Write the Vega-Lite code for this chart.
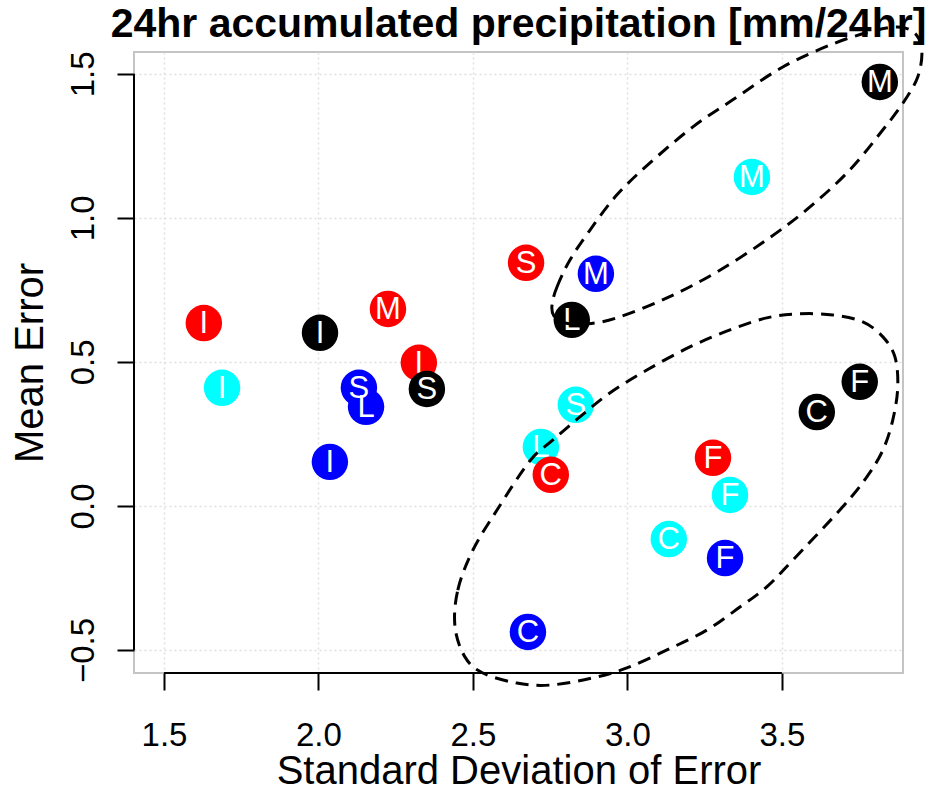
{
  "$schema": "https://vega.github.io/schema/vega-lite/v6.json",
  "autosize": {"type": "none"},
  "width": 769,
  "height": 621,
  "padding": {"left": 134, "top": 52, "right": 34, "bottom": 117},
  "background": "white",
  "config": {
    "view": {"stroke": "#c4c4c4", "strokeWidth": 2},
    "font": "Liberation Sans"
  },
  "title": {
    "text": "24hr accumulated precipitation [mm/24hr]",
    "fontSize": 41,
    "font": "Liberation Sans",
    "fontWeight": "bold",
    "color": "black",
    "anchor": "middle",
    "baseline": "alphabetic",
    "offset": -57
  },
  "datasets": {
    "pts": [
      {"grp": "cyan", "lab": "I", "sd": 1.688, "me": 0.410},
      {"grp": "cyan", "lab": "S", "sd": 2.833, "me": 0.351},
      {"grp": "cyan", "lab": "L", "sd": 2.720, "me": 0.205},
      {"grp": "cyan", "lab": "F", "sd": 3.332, "me": 0.038},
      {"grp": "cyan", "lab": "C", "sd": 3.134, "me": -0.115},
      {"grp": "cyan", "lab": "M", "sd": 3.403, "me": 1.142},
      {"grp": "blue", "lab": "L", "sd": 2.154, "me": 0.344},
      {"grp": "blue", "lab": "S", "sd": 2.131, "me": 0.410},
      {"grp": "blue", "lab": "I", "sd": 2.037, "me": 0.153},
      {"grp": "blue", "lab": "M", "sd": 2.898, "me": 0.806},
      {"grp": "blue", "lab": "F", "sd": 3.316, "me": -0.181},
      {"grp": "blue", "lab": "C", "sd": 2.678, "me": -0.4375},
      {"grp": "red", "lab": "I", "sd": 1.629, "me": 0.635},
      {"grp": "red", "lab": "M", "sd": 2.225, "me": 0.684},
      {"grp": "red", "lab": "I", "sd": 2.325, "me": 0.497},
      {"grp": "red", "lab": "S", "sd": 2.672, "me": 0.844},
      {"grp": "red", "lab": "C", "sd": 2.752, "me": 0.108},
      {"grp": "red", "lab": "F", "sd": 3.277, "me": 0.167},
      {"grp": "black", "lab": "M", "sd": 3.817, "me": 1.472},
      {"grp": "black", "lab": "L", "sd": 2.820, "me": 0.646},
      {"grp": "black", "lab": "I", "sd": 2.005, "me": 0.601},
      {"grp": "black", "lab": "S", "sd": 2.351, "me": 0.406},
      {"grp": "black", "lab": "F", "sd": 3.752, "me": 0.431},
      {"grp": "black", "lab": "C", "sd": 3.613, "me": 0.326}
    ],
    "axes": [
      {"dir": "x", "a": 1.5, "b": 3.5, "c": -0.58},
      {"dir": "y", "a": -0.5, "b": 1.5, "c": 1.403}
    ],
    "ell": [
      {"e": "u", "i": 1, "sd": 2.756, "me": 0.698},
      {"e": "u", "i": 2, "sd": 2.772, "me": 0.760},
      {"e": "u", "i": 3, "sd": 2.814, "me": 0.854},
      {"e": "u", "i": 4, "sd": 2.879, "me": 0.958},
      {"e": "u", "i": 5, "sd": 2.966, "me": 1.080},
      {"e": "u", "i": 6, "sd": 3.073, "me": 1.191},
      {"e": "u", "i": 7, "sd": 3.212, "me": 1.316},
      {"e": "u", "i": 8, "sd": 3.341, "me": 1.410},
      {"e": "u", "i": 9, "sd": 3.503, "me": 1.524},
      {"e": "u", "i": 10, "sd": 3.665, "me": 1.604},
      {"e": "u", "i": 11, "sd": 3.785, "me": 1.646},
      {"e": "u", "i": 12, "sd": 3.875, "me": 1.663},
      {"e": "u", "i": 13, "sd": 3.930, "me": 1.642},
      {"e": "u", "i": 14, "sd": 3.953, "me": 1.583},
      {"e": "u", "i": 15, "sd": 3.940, "me": 1.490},
      {"e": "u", "i": 16, "sd": 3.892, "me": 1.399},
      {"e": "u", "i": 17, "sd": 3.827, "me": 1.306},
      {"e": "u", "i": 18, "sd": 3.720, "me": 1.167},
      {"e": "u", "i": 19, "sd": 3.591, "me": 1.038},
      {"e": "u", "i": 20, "sd": 3.451, "me": 0.924},
      {"e": "u", "i": 21, "sd": 3.290, "me": 0.8125},
      {"e": "u", "i": 22, "sd": 3.128, "me": 0.722},
      {"e": "u", "i": 23, "sd": 2.966, "me": 0.653},
      {"e": "u", "i": 24, "sd": 2.869, "me": 0.632},
      {"e": "u", "i": 25, "sd": 2.798, "me": 0.635},
      {"e": "u", "i": 26, "sd": 2.762, "me": 0.660},
      {"e": "l", "i": 1, "sd": 2.442, "me": -0.420},
      {"e": "l", "i": 2, "sd": 2.451, "me": -0.292},
      {"e": "l", "i": 3, "sd": 2.500, "me": -0.153},
      {"e": "l", "i": 4, "sd": 2.578, "me": -0.014},
      {"e": "l", "i": 5, "sd": 2.684, "me": 0.156},
      {"e": "l", "i": 6, "sd": 2.759, "me": 0.229},
      {"e": "l", "i": 7, "sd": 2.846, "me": 0.309},
      {"e": "l", "i": 8, "sd": 2.943, "me": 0.392},
      {"e": "l", "i": 9, "sd": 3.063, "me": 0.472},
      {"e": "l", "i": 10, "sd": 3.202, "me": 0.552},
      {"e": "l", "i": 11, "sd": 3.332, "me": 0.611},
      {"e": "l", "i": 12, "sd": 3.451, "me": 0.653},
      {"e": "l", "i": 13, "sd": 3.558, "me": 0.667},
      {"e": "l", "i": 14, "sd": 3.665, "me": 0.663},
      {"e": "l", "i": 15, "sd": 3.762, "me": 0.639},
      {"e": "l", "i": 16, "sd": 3.827, "me": 0.587},
      {"e": "l", "i": 17, "sd": 3.866, "me": 0.517},
      {"e": "l", "i": 18, "sd": 3.875, "me": 0.413},
      {"e": "l", "i": 19, "sd": 3.859, "me": 0.299},
      {"e": "l", "i": 20, "sd": 3.827, "me": 0.194},
      {"e": "l", "i": 21, "sd": 3.775, "me": 0.101},
      {"e": "l", "i": 22, "sd": 3.697, "me": -0.003},
      {"e": "l", "i": 23, "sd": 3.536, "me": -0.1875},
      {"e": "l", "i": 24, "sd": 3.451, "me": -0.281},
      {"e": "l", "i": 25, "sd": 3.364, "me": -0.351},
      {"e": "l", "i": 26, "sd": 3.257, "me": -0.431},
      {"e": "l", "i": 27, "sd": 3.128, "me": -0.500},
      {"e": "l", "i": 28, "sd": 2.998, "me": -0.5625},
      {"e": "l", "i": 29, "sd": 2.888, "me": -0.597},
      {"e": "l", "i": 30, "sd": 2.749, "me": -0.622},
      {"e": "l", "i": 31, "sd": 2.642, "me": -0.615},
      {"e": "l", "i": 32, "sd": 2.532, "me": -0.580},
      {"e": "l", "i": 33, "sd": 2.474, "me": -0.524}
    ]
  },
  "layer": [
    {
      "data": {"name": "pts"},
      "transform": [{"filter": "datum.grp === 'cyan'"}],
      "mark": {"type": "circle", "size": 1330, "opacity": 1},
      "encoding": {
        "x": {
          "field": "sd", "type": "quantitative",
          "scale": {"domain": [1.403, 3.892], "nice": false, "zero": false},
          "axis": {
            "title": "Standard Deviation of Error",
            "values": [1.5, 2, 2.5, 3, 3.5],
            "format": ".1f",
            "domain": false,
            "ticks": true, "tickSize": 17, "tickWidth": 2, "tickColor": "black",
            "labelFontSize": 33, "labelFont": "Liberation Sans", "labelColor": "black",
            "labelBaseline": "alphabetic", "labelPadding": 55,
            "labelFlush": false, "labelOverlap": false,
            "grid": true, "gridColor": "#e0e0e0", "gridDash": [2, 3], "gridWidth": 1.5,
            "titleFontSize": 40, "titleFont": "Liberation Sans", "titleFontWeight": "normal",
            "titleColor": "black", "titleBaseline": "alphabetic", "titleY": 110
          }
        },
        "y": {
          "field": "me", "type": "quantitative",
          "scale": {"domain": [-0.58, 1.576], "nice": false, "zero": false},
          "axis": {
            "title": "Mean Error",
            "values": [-0.5, 0, 0.5, 1, 1.5],
            "format": ".1f",
            "domain": false,
            "ticks": true, "tickSize": 17, "tickWidth": 2, "tickColor": "black",
            "labelFontSize": 33, "labelFont": "Liberation Sans", "labelColor": "black",
            "labelAngle": 270, "labelAlign": "center", "labelBaseline": "alphabetic",
            "labelPadding": 24, "labelFlush": false, "labelOverlap": false,
            "grid": true, "gridColor": "#e0e0e0", "gridDash": [2, 3], "gridWidth": 1.5,
            "titleFontSize": 40, "titleFont": "Liberation Sans", "titleFontWeight": "normal",
            "titleColor": "black", "titleAngle": 270, "titleBaseline": "alphabetic",
            "titleX": -92
          }
        },
        "color": {
          "field": "grp", "type": "nominal",
          "scale": {"domain": ["black", "red", "cyan", "blue"], "range": ["#000000", "#ff0000", "#00ffff", "#0000ff"]},
          "legend": null
        }
      }
    },
    {
      "data": {"name": "pts"},
      "transform": [{"filter": "datum.grp === 'cyan'"}],
      "mark": {"type": "text", "color": "white", "fontSize": 31, "font": "Liberation Sans", "align": "center", "baseline": "middle", "dy": 1},
      "encoding": {
        "x": {"field": "sd", "type": "quantitative"},
        "y": {"field": "me", "type": "quantitative"},
        "text": {"field": "lab"}
      }
    },
    {
      "data": {"name": "pts"},
      "transform": [{"filter": "datum.grp === 'blue'"}],
      "mark": {"type": "circle", "size": 1330, "opacity": 1},
      "encoding": {
        "x": {"field": "sd", "type": "quantitative"},
        "y": {"field": "me", "type": "quantitative"},
        "color": {"field": "grp", "type": "nominal", "legend": null}
      }
    },
    {
      "data": {"name": "pts"},
      "transform": [{"filter": "datum.grp === 'blue'"}],
      "mark": {"type": "text", "color": "white", "fontSize": 31, "font": "Liberation Sans", "align": "center", "baseline": "middle", "dy": 1},
      "encoding": {
        "x": {"field": "sd", "type": "quantitative"},
        "y": {"field": "me", "type": "quantitative"},
        "text": {"field": "lab"}
      }
    },
    {
      "data": {"name": "pts"},
      "transform": [{"filter": "datum.grp === 'red'"}],
      "mark": {"type": "circle", "size": 1330, "opacity": 1},
      "encoding": {
        "x": {"field": "sd", "type": "quantitative"},
        "y": {"field": "me", "type": "quantitative"},
        "color": {"field": "grp", "type": "nominal", "legend": null}
      }
    },
    {
      "data": {"name": "pts"},
      "transform": [{"filter": "datum.grp === 'red'"}],
      "mark": {"type": "text", "color": "white", "fontSize": 31, "font": "Liberation Sans", "align": "center", "baseline": "middle", "dy": 1},
      "encoding": {
        "x": {"field": "sd", "type": "quantitative"},
        "y": {"field": "me", "type": "quantitative"},
        "text": {"field": "lab"}
      }
    },
    {
      "data": {"name": "pts"},
      "transform": [{"filter": "datum.grp === 'black'"}],
      "mark": {"type": "circle", "size": 1330, "opacity": 1},
      "encoding": {
        "x": {"field": "sd", "type": "quantitative"},
        "y": {"field": "me", "type": "quantitative"},
        "color": {"field": "grp", "type": "nominal", "legend": null}
      }
    },
    {
      "data": {"name": "pts"},
      "transform": [{"filter": "datum.grp === 'black'"}],
      "mark": {"type": "text", "color": "white", "fontSize": 31, "font": "Liberation Sans", "align": "center", "baseline": "middle", "dy": 1},
      "encoding": {
        "x": {"field": "sd", "type": "quantitative"},
        "y": {"field": "me", "type": "quantitative"},
        "text": {"field": "lab"}
      }
    },
    {
      "data": {"name": "ell"},
      "mark": {"type": "line", "color": "black", "strokeWidth": 3, "strokeDash": [13, 8], "interpolate": "cardinal-closed", "clip": false},
      "encoding": {
        "x": {"field": "sd", "type": "quantitative"},
        "y": {"field": "me", "type": "quantitative"},
        "detail": {"field": "e"},
        "order": {"field": "i", "type": "quantitative"}
      }
    },
    {
      "data": {"name": "axes"},
      "transform": [{"filter": "datum.dir === 'x'"}],
      "mark": {"type": "rule", "color": "black", "strokeWidth": 2},
      "encoding": {
        "x": {"field": "a", "type": "quantitative"},
        "x2": {"field": "b"},
        "y": {"field": "c", "type": "quantitative"}
      }
    },
    {
      "data": {"name": "axes"},
      "transform": [{"filter": "datum.dir === 'y'"}],
      "mark": {"type": "rule", "color": "black", "strokeWidth": 2},
      "encoding": {
        "y": {"field": "a", "type": "quantitative"},
        "y2": {"field": "b"},
        "x": {"field": "c", "type": "quantitative"}
      }
    }
  ]
}
